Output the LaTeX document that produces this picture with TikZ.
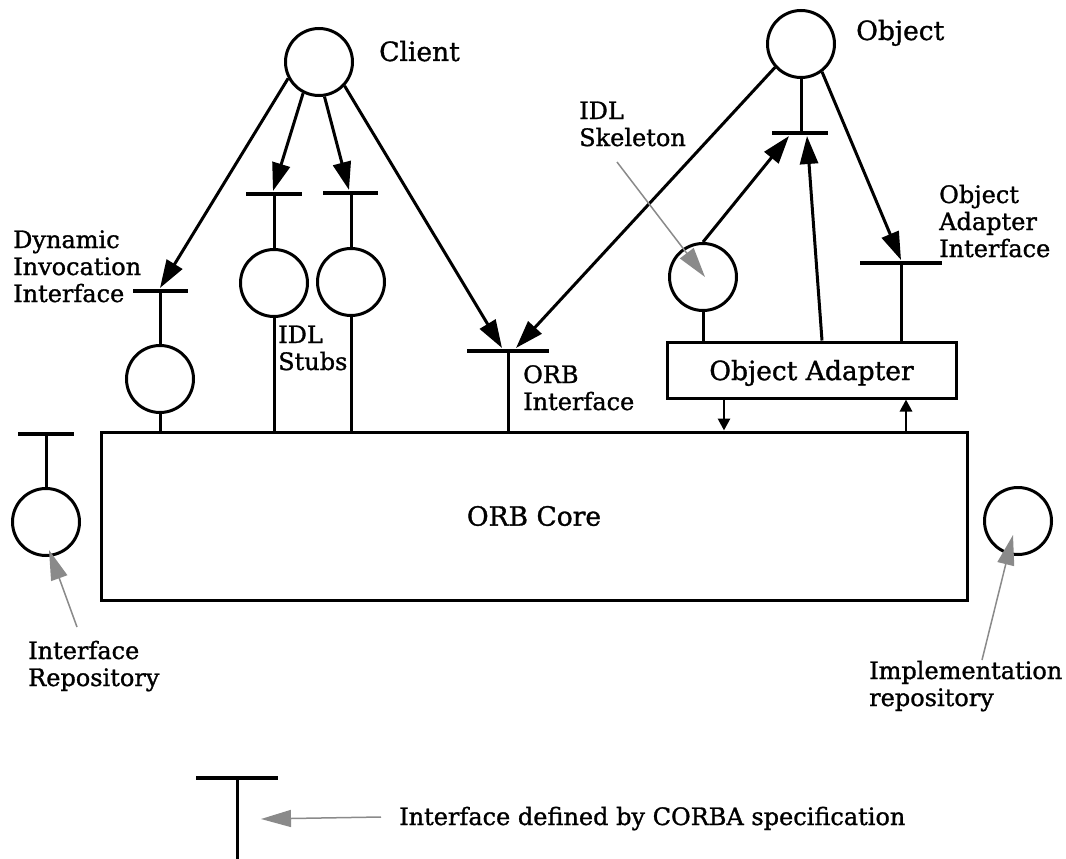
\documentclass[tikz,border=0pt]{standalone}
\usepackage{fontspec}
\setmainfont{DejaVu Serif}[RawFeature={embolden=1.2}]
\usetikzlibrary{arrows.meta}
\definecolor{arrowgray}{HTML}{8A8A8A}
\tikzset{
  ln/.style={line width=3pt},
  iface/.style={circle, draw, line width=3pt, minimum size=67pt, inner sep=0pt},
  bar/.style={line width=3.3pt},
  bigarrow/.style={line width=3pt, -{Triangle[length=28pt,width=18pt]}},
  smallarrow/.style={line width=2.8pt, -{Triangle[length=12pt,width=12pt]}},
  grayarrow/.style={line width=1.5pt, draw=arrowgray, -{Triangle[length=30pt,width=17pt]}},
  lbl/.style={inner sep=0pt, anchor=base west, font=\fontsize{24}{27}\selectfont},
  biglbl/.style={inner sep=0pt, anchor=base west, font=\fontsize{26.5}{30}\selectfont},
  box/.style={draw, line width=3pt, inner sep=0pt, font=\fontsize{26.5}{30}\selectfont}
}
\newcommand{\ml}[1]{\begin{tabular}[t]{@{}l@{}}#1\end{tabular}}
\begin{document}
\begin{tikzpicture}[x=1pt,y=-1pt]
\useasboundingbox (0,0) rectangle (1066,859);

% main boxes
\node[box, minimum width=866pt, minimum height=168pt] (core) at (534,516) {ORB Core};
\node[box, minimum width=289pt, minimum height=56pt, text depth=0pt] (oa) at (811.5,370) {Object Adapter};

% client / object
\node[iface] (client) at (319,62) {};
\node[iface] (obj) at (801,44) {};
\node[biglbl] (clientL) at (379,61) {Client};
\node[biglbl] (objL) at (856,40) {Object};

% interface T coordinates
\coordinate (diiT) at (160,291);
\coordinate (stubAT) at (274,194);
\coordinate (stubBT) at (351,193);
\coordinate (orbT) at (508,351);
\coordinate (skelT) at (801,133);
\coordinate (oaiT) at (901,263);
\coordinate (irT) at (46,434);
\coordinate (legT) at (237,778);

% bars
\draw[bar] ([xshift=-27pt]diiT) -- ([xshift=28pt]diiT);
\draw[bar] ([xshift=-28pt]stubAT) -- ([xshift=28pt]stubAT);
\draw[bar] ([xshift=-28pt]stubBT) -- ([xshift=27pt]stubBT);
\draw[bar] ([xshift=-41pt]orbT) -- ([xshift=41pt]orbT);
\draw[bar] ([xshift=-29pt]skelT) -- ([xshift=27pt]skelT);
\draw[bar] ([xshift=-41pt]oaiT) -- ([xshift=41pt]oaiT);
\draw[bar] ([xshift=-28pt]irT) -- ([xshift=28pt]irT);
\draw[bar] ([xshift=-41pt]legT) -- ([xshift=41pt]legT);

% circles
\node[iface] (diiC) at (160,379) {};
\node[iface] (stubAC) at (274,283) {};
\node[iface] (stubBC) at (351,282) {};
\node[iface] (skelC) at (703,277) {};
\node[iface] (irC) at (46,522) {};
\node[iface] (implC) at (1018,521) {};

% stems
\draw[ln] (diiT) -- (diiC.north);
\draw[ln] (diiC.south) -- (diiC.south |- core.north);
\draw[ln] (stubAT) -- (stubAC.north);
\draw[ln] (stubAC.south) -- (stubAC.south |- core.north);
\draw[ln] (stubBT) -- (stubBC.north);
\draw[ln] (stubBC.south) -- (stubBC.south |- core.north);
\draw[ln] (orbT) -- (orbT |- core.north);
\draw[ln] (obj.south) -- (skelT);
\draw[ln] (skelC.south) -- (skelC.south |- oa.north);
\draw[ln] (oaiT) -- (oaiT |- oa.north);
\draw[ln] (irT) -- (irC.north);
\draw[ln] (legT) -- ([yshift=-85pt]legT);

% client arrows
\draw[bigarrow] (client.208) -- ([shift={(0,-3)}]diiT);
\draw[bigarrow] (client.243) -- ([shift={(-1,-3)}]stubAT);
\draw[bigarrow] (client.279.5) -- ([shift={(-2,-3)}]stubBT);
\draw[bigarrow] (client.317) -- ([shift={(-6,-3)}]orbT);

% object arrows
\draw[bigarrow] (obj.222) -- ([shift={(8,-3)}]orbT);
\draw[bigarrow] (obj.307.5) -- ([shift={(0,-3)}]oaiT);
\draw[bigarrow] (skelC.north) -- ([shift={(-12,3)}]skelT);
\draw[bigarrow] ([xshift=10.5pt]oa.north) -- ([shift={(6,3)}]skelT);

% object adapter <-> core
\draw[smallarrow] ([xshift=-87.5pt]oa.south) -- ([xshift=-87.5pt]oa.south |- core.north);
\draw[smallarrow] ([xshift=94.5pt]oa.south |- core.north) -- ([xshift=94.5pt]oa.south);

% labels
\node[lbl] (diiL) at (13,248) {\ml{Dynamic\\Invocation\\Interface}};
\node[lbl] (stubL) at (278,343) {\ml{IDL\\Stubs}};
\node[lbl] (orbL) at (523,383) {\ml{ORB\\Interface}};
\node[lbl] (skelL) at (579,119) {\ml{IDL\\Skeleton}};
\node[lbl] (oaiL) at (939,203) {\ml{Object\\Adapter\\Interface}};
\node[lbl] (irL) at (28,659) {\ml{Interface\\Repository}};
\node[lbl] (implL) at (869,679) {\ml{Implementation\\repository}};
\node[lbl] (legL) at (399,825) {Interface defined by CORBA specification};

% gray pointer arrows
\coordinate (skelTail) at (617,162);
\coordinate (irTail) at (77,627);
\coordinate (implTail) at (982,660);
\coordinate (legTail) at (381,817);
\draw[grayarrow] (skelTail) -- ([shift={(2,0)}]skelC.center);
\draw[grayarrow] (irTail) -- ([shift={(3,28)}]irC.center);
\draw[grayarrow] (implTail) -- ([shift={(-5,14)}]implC.center);
\draw[grayarrow] (legTail) -- ([shift={(24,41)}]legT);
\end{tikzpicture}
\end{document}
